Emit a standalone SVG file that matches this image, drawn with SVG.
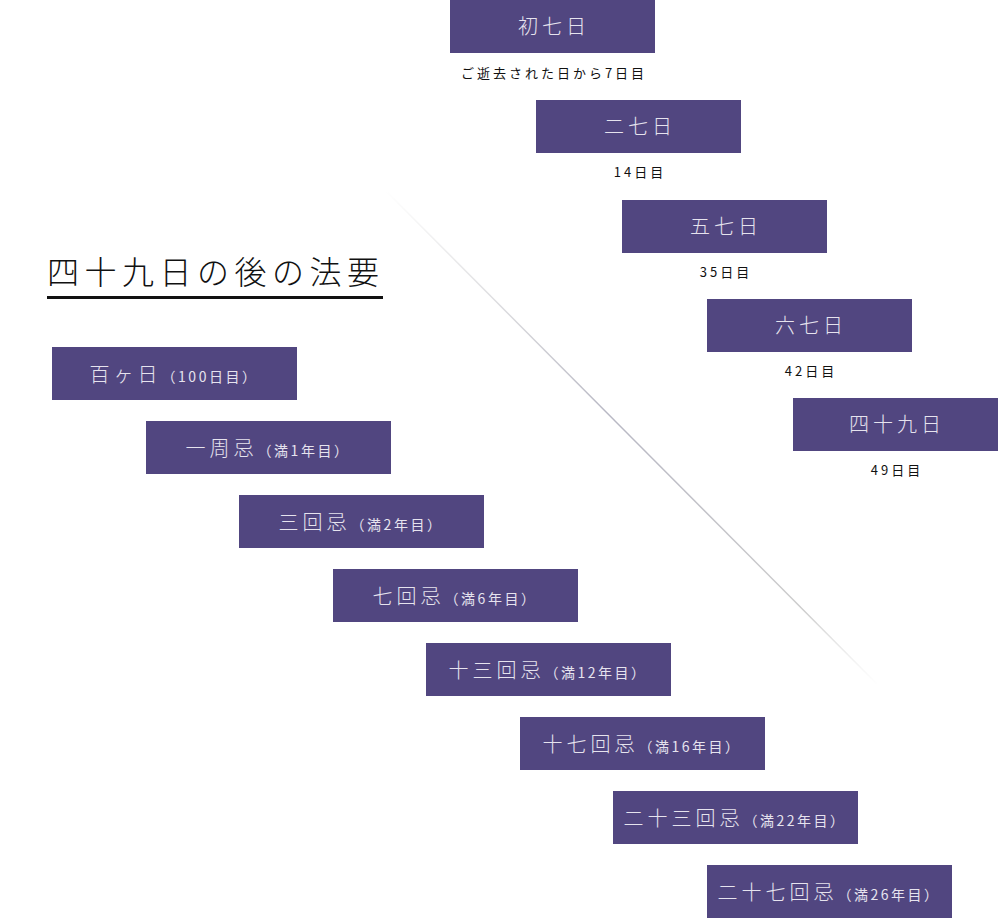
<svg xmlns="http://www.w3.org/2000/svg" width="1000" height="919" viewBox="0 0 1000 919">
<style>
.box{fill:#514680}
.bt{fill:#e6e3ee;font-family:"Noto Sans CJK JP","Liberation Serif",serif;font-size:20px;letter-spacing:4px;text-anchor:middle;font-weight:300}
.sm{font-size:14px;letter-spacing:2.5px;font-weight:400}
.cap{fill:#111;font-family:"Noto Sans CJK JP","Liberation Serif",serif;font-size:13px;letter-spacing:3px;text-anchor:middle}
.title{fill:#111;font-family:"Noto Sans CJK JP",serif;font-size:32px;letter-spacing:5.5px;font-weight:300}
</style>
<defs>
<linearGradient id="lg" x1="385" y1="190" x2="878" y2="685" gradientUnits="userSpaceOnUse">
<stop offset="0" stop-color="#bbb" stop-opacity="0"/>
<stop offset="0.45" stop-color="#b8b8c4" stop-opacity="1"/>
<stop offset="0.85" stop-color="#ccc" stop-opacity="1"/>
<stop offset="1" stop-color="#ddd" stop-opacity="0"/>
</linearGradient>
</defs>
<g id="connectors">
<line x1="385" y1="190" x2="878" y2="685" stroke="url(#lg)" stroke-width="1.5"/>
</g>
<g id="title">
<text class="title" x="47" y="284">四十九日の後の法要</text>
<rect x="47" y="296" width="336" height="3" fill="#111"/>
</g>
<g id="n1"><rect class="box" x="450" y="0" width="205" height="53"/><text class="bt" x="554" y="34">初七日</text><text class="cap" x="554" y="78">ご逝去された日から7日目</text></g>
<g id="n2"><rect class="box" x="536" y="100" width="205" height="53"/><text class="bt" x="640" y="134">二七日</text><text class="cap" x="640" y="177">14日目</text></g>
<g id="n3"><rect class="box" x="622" y="200" width="205" height="53"/><text class="bt" x="726" y="234">五七日</text><text class="cap" x="726" y="277">35日目</text></g>
<g id="n4"><rect class="box" x="707" y="299" width="205" height="53"/><text class="bt" x="811" y="333">六七日</text><text class="cap" x="811" y="376">42日目</text></g>
<g id="n5"><rect class="box" x="793" y="398" width="205" height="53"/><text class="bt" x="897" y="432">四十九日</text><text class="cap" x="897" y="475">49日目</text></g>
<g id="m1"><rect class="box" x="52" y="347" width="245" height="53"/><text class="bt" x="174" y="382">百ヶ日<tspan class="sm">（100日目）</tspan></text></g>
<g id="m2"><rect class="box" x="146" y="421" width="245" height="53"/><text class="bt" x="268" y="456">一周忌<tspan class="sm">（満1年目）</tspan></text></g>
<g id="m3"><rect class="box" x="239" y="495" width="245" height="53"/><text class="bt" x="361" y="530">三回忌<tspan class="sm">（満2年目）</tspan></text></g>
<g id="m4"><rect class="box" x="333" y="569" width="245" height="53"/><text class="bt" x="455" y="604">七回忌<tspan class="sm">（満6年目）</tspan></text></g>
<g id="m5"><rect class="box" x="426" y="643" width="245" height="53"/><text class="bt" x="548" y="678">十三回忌<tspan class="sm">（満12年目）</tspan></text></g>
<g id="m6"><rect class="box" x="520" y="717" width="245" height="53"/><text class="bt" x="642" y="752">十七回忌<tspan class="sm">（満16年目）</tspan></text></g>
<g id="m7"><rect class="box" x="613" y="791" width="245" height="53"/><text class="bt" x="735" y="826">二十三回忌<tspan class="sm">（満22年目）</tspan></text></g>
<g id="m8"><rect class="box" x="707" y="865" width="245" height="53"/><text class="bt" x="829" y="900">二十七回忌<tspan class="sm">（満26年目）</tspan></text></g>
</svg>
